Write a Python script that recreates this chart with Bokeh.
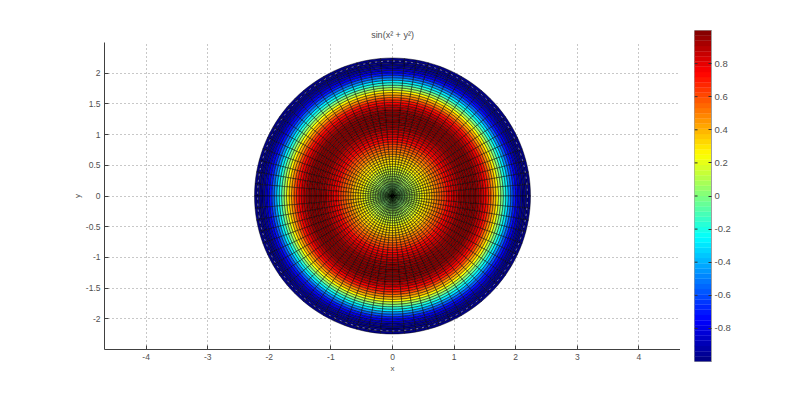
import numpy as np
from bokeh.plotting import figure
from bokeh.layouts import row, column
from bokeh.models import FixedTicker, ColumnDataSource
from bokeh.embed import file_html
from bokeh.resources import INLINE

# values: colour value per ring, centre to rim
ring_radius = [0.02,0.06,0.10,0.14,0.18,0.22,0.26,0.30,0.34,0.38,0.42,0.46,0.50,0.54,0.58,0.62,0.66,0.70,
               0.74,0.78,0.82,0.86,0.90,0.94,0.98,1.02,1.06,1.10,1.14,1.18,1.22,1.26,1.30,1.34,1.38,1.42,
               1.46,1.50,1.54,1.58,1.62,1.66,1.70,1.74,1.78,1.82,1.86,1.90,1.94,1.98,2.02,2.06,2.10,2.14,2.18,2.22]
ring_value = [0.00,0.00,0.01,0.02,0.03,0.05,0.07,0.09,0.12,0.14,0.18,0.21,0.25,0.29,0.33,0.37,0.42,0.47,
              0.52,0.57,0.62,0.67,0.72,0.77,0.82,0.86,0.90,0.94,0.96,0.98,1.00,1.00,0.99,0.97,0.94,0.90,
              0.85,0.78,0.70,0.60,0.49,0.38,0.25,0.11,-0.03,-0.17,-0.31,-0.45,-0.58,-0.70,-0.81,-0.89,-0.95,-0.99,-1.00,-0.98]
sector_count = 72
x_ticks = [-4,-3,-2,-1,0,1,2,3,4]
y_ticks = [-2,-1.5,-1,-0.5,0,0.5,1,1.5,2]
y_grid = [-2.5,-2,-1.5,-1,-0.5,0,0.5,1,1.5,2,2.5]
cbar_ticks = [-0.8,-0.6,-0.4,-0.2,0,0.2,0.4,0.6,0.8]

def jet(n=64):
    t = (np.arange(n)+0.5)/n
    r = np.clip(np.minimum(4*t-1.5, -4*t+4.5),0,1)
    g = np.clip(np.minimum(4*t-0.5, -4*t+3.5),0,1)
    b = np.clip(np.minimum(4*t+0.5, -4*t+2.5),0,1)
    return ["#%02x%02x%02x"%(int(a*255),int(c*255),int(d*255)) for a,c,d in zip(r,g,b)]
PAL = jet()
def colour(v):
    return PAL[min(63,int((v+1)/2*64))]
def labels(ticks):
    return {t: ("%g" % t) for t in ticks}

FONT = "Liberation Sans"
TXT = "#505050"
p = figure(output_backend="svg", toolbar_location=None, frame_width=576, frame_height=307,
           x_range=(-4.675,4.675), y_range=(-2.5,2.5), x_axis_label="x", y_axis_label="y",
           min_border_left=104, min_border_right=0, min_border_top=42, min_border_bottom=30,
           title="sin(x² + y²)", outline_line_color=None, background_fill_color="white")
p.title.align="center"; p.title.text_font=FONT; p.title.text_font_size="9px"
p.title.text_font_style="normal"; p.title.text_color=TXT; p.title.offset=0; p.title.standoff=6

for ax,t in ((p.xaxis,x_ticks),(p.yaxis,y_ticks)):
    ax.ticker=FixedTicker(ticks=t)
    ax.major_label_overrides=labels(t)
    ax.major_tick_in=4; ax.major_tick_out=0
    ax.minor_tick_line_color=None
    ax.axis_line_color="#404040"; ax.major_tick_line_color="#404040"
    ax.major_label_text_font=FONT; ax.major_label_text_font_size="8.5px"; ax.major_label_text_color=TXT
    ax.axis_label_text_font=FONT; ax.axis_label_text_font_size="8px"
    ax.axis_label_text_font_style="normal"; ax.axis_label_text_color=TXT
    ax.major_label_standoff=4; ax.axis_label_standoff=1
p.yaxis.major_label_orientation="horizontal"

for g,t in ((p.xgrid,x_ticks),(p.ygrid,y_grid)):
    g.ticker=FixedTicker(ticks=t)
    g.grid_line_color="#909090"; g.grid_line_dash="1 3"; g.grid_line_width=1

inner=[];outer=[];start=[];end=[];col=[]
step=2*np.pi/sector_count
half=(ring_radius[1]-ring_radius[0])/2
for r,v in zip(ring_radius,ring_value):
    for k in range(sector_count):
        inner.append(r-half);outer.append(r+half)
        start.append(k*step);end.append((k+1)*step);col.append(colour(v))
src=ColumnDataSource(dict(inner=inner,outer=outer,start=start,end=end,col=col,x=[0]*len(col),y=[0]*len(col)))
p.annular_wedge(x="x",y="y",inner_radius="inner",outer_radius="outer",start_angle="start",end_angle="end",
                source=src,fill_color="col",line_color="black",line_width=0.55,line_alpha=0.85)
p.circle(x=[0],y=[0],radius=[ring_radius[-1]-0.03],fill_color=None,line_color="white",
         line_dash="2 4",line_width=1,line_alpha=0.45)

c = figure(output_backend="svg", toolbar_location=None, frame_width=17, frame_height=331,
           x_range=(0,1), y_range=(-1,1), min_border_left=14, min_border_right=34,
           min_border_top=30, min_border_bottom=19, y_axis_location="right",
           outline_line_color="#a0a0a0")
edges=np.linspace(-1,1,65)
c.quad(left=0,right=1,bottom=edges[:-1],top=edges[1:],fill_color=PAL,line_color=PAL,line_width=0.3)
c.segment(x0=[0]*len(cbar_ticks),x1=[0.18]*len(cbar_ticks),y0=cbar_ticks,y1=cbar_ticks,line_color="#303030",line_width=1)
c.xaxis.visible=False
c.grid.visible=False
ax=c.yaxis[0]
ax.ticker=FixedTicker(ticks=cbar_ticks)
ax.major_label_overrides=labels(cbar_ticks)
ax.major_tick_in=3; ax.major_tick_out=0; ax.minor_tick_line_color=None
ax.axis_line_color="#a0a0a0"; ax.major_tick_line_color="#303030"
ax.major_label_text_font=FONT; ax.major_label_text_font_size="9.5px"; ax.major_label_text_color=TXT
ax.major_label_standoff=3

layout=row(p,column(c),spacing=0)
open("out.html","w").write(file_html(layout,INLINE))
